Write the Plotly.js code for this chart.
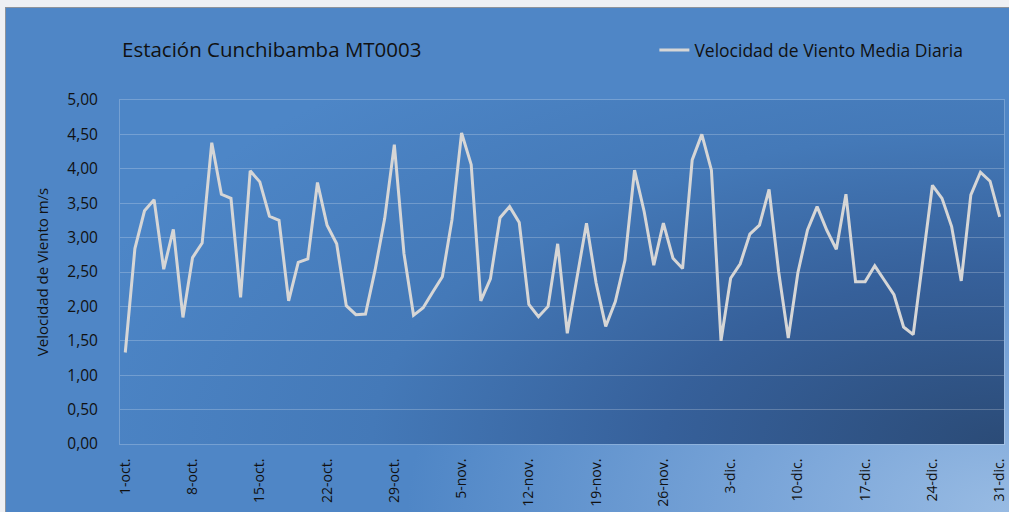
<!DOCTYPE html>
<html>
<head>
<meta charset="utf-8">
<script src="https://cdn.plot.ly/plotly-3.0.1.min.js"></script>
<style>
  html, body { margin:0; padding:0; width:1009px; height:512px; overflow:hidden; background:#eef0f4; }
  #frame { position:absolute; left:5px; top:7px; width:1004px; height:505px;
    border-left:1px solid #8d939c; border-top:1px solid #8d939c; box-sizing:border-box;
    background: radial-gradient(ellipse 60% 70% at 100% 100%, #98bbe3 0%, #7ea8da 35%, #4f86c6 100%); }
  #plotbg { position:absolute; left:120px; top:100px; width:884px; height:344px;
    background: radial-gradient(ellipse 110% 140% at 100% 100%, #2b4b77 0%, #36609a 35%, #4479b8 65%, #4d86c7 100%); }
  #chart { position:absolute; left:0; top:0; width:1009px; height:512px; }
</style>
</head>
<body>
<div id="frame"></div>
<div id="plotbg"></div>
<div id="chart"></div>
<script>
// Months and day counts for the category labels
const months = ['oct.', 'nov.', 'dic.'];
const monthDays = [31, 30, 31];

// Daily mean wind speed (m/s), 1-oct to 31-dic
const windSpeed = [
  1.33, 2.84, 3.39, 3.55, 2.54, 3.12, 1.84, 2.71, 2.92, 4.38,
  3.63, 3.57, 2.13, 3.97, 3.81, 3.31, 3.25, 2.08, 2.64, 2.69,
  3.80, 3.18, 2.91, 2.01, 1.88, 1.89, 2.53, 3.28, 4.35, 2.77,
  1.87, 1.98, 2.21, 2.43, 3.26, 4.52, 4.06, 2.08, 2.40, 3.29,
  3.45, 3.22, 2.03, 1.85, 2.00, 2.91, 1.61, 2.41, 3.21, 2.34,
  1.71, 2.07, 2.67, 3.98, 3.38, 2.60, 3.21, 2.70, 2.55, 4.13,
  4.50, 3.98, 1.50, 2.41, 2.62, 3.05, 3.18, 3.70, 2.50, 1.54,
  2.49, 3.11, 3.45, 3.11, 2.83, 3.63, 2.36, 2.36, 2.59, 2.38,
  2.17, 1.70, 1.59, 2.67, 3.76, 3.57, 3.16, 2.37, 3.62, 3.95,
  3.82, 3.30
];

// Tick labels shown on the x axis
const xTickLabels = ['1-oct.', '8-oct.', '15-oct.', '22-oct.', '29-oct.', '5-nov.', '12-nov.',
  '19-nov.', '26-nov.', '3-dic.', '10-dic.', '17-dic.', '24-dic.', '31-dic.'];
const yTickVals = [0, 0.5, 1, 1.5, 2, 2.5, 3, 3.5, 4, 4.5, 5];
const yTickText = ['0,00', '0,50', '1,00', '1,50', '2,00', '2,50', '3,00', '3,50', '4,00', '4,50', '5,00'];

const categories = [];
months.forEach((m, k) => { for (let d = 1; d <= monthDays[k]; d++) categories.push(d + '-' + m); });

const font = 'Open Sans, Noto Sans, sans-serif';
const gridCol = 'rgba(255,255,255,0.22)';

const trace = {
  x: categories, y: windSpeed, type: 'scatter', mode: 'lines',
  name: 'Velocidad de Viento Media Diaria',
  line: { color: '#d6d6d6', width: 3 }
};

const layout = {
  width: 1009, height: 512,
  margin: { l: 120, r: 5, t: 100, b: 68, pad: 0 },
  paper_bgcolor: 'rgba(0,0,0,0)', plot_bgcolor: 'rgba(0,0,0,0)',
  font: { family: font, color: '#111111' },
  title: { text: 'Estación Cunchibamba MT0003', x: 122 / 1009, xanchor: 'left', y: 1 - 50 / 512, yanchor: 'middle',
    font: { family: font, size: 20.5, color: '#111111' } },
  showlegend: true,
  legend: { x: 0.6045, xanchor: 'left', y: 1.145, yanchor: 'middle', bgcolor: 'rgba(0,0,0,0)',
    font: { family: font, size: 17.5, color: '#111111' }, itemwidth: 30 },
  xaxis: {
    type: 'category', range: [-0.55, 91.45],
    tickmode: 'array', tickvals: xTickLabels, ticktext: xTickLabels,
    tickangle: -90, tickfont: { family: font, size: 14, color: '#111111' },
    ticks: '', ticklabelstandoff: 8,
    showgrid: false, zeroline: false,
    showline: true, linecolor: gridCol, linewidth: 1, mirror: true
  },
  yaxis: {
    range: [0, 5], tickmode: 'array', tickvals: yTickVals, ticktext: yTickText,
    tickfont: { family: font, size: 15.5, color: '#111111' },
    ticks: '', ticklabelstandoff: 18,
    showgrid: true, gridcolor: gridCol, gridwidth: 1, zeroline: false,
    showline: true, linecolor: gridCol, linewidth: 1, mirror: true,
    title: { text: 'Velocidad de Viento m/s', standoff: 15, font: { family: font, size: 15, color: '#111111' } }
  }
};

Plotly.newPlot('chart', [trace], layout, { displayModeBar: false, staticPlot: true });
</script>
</body>
</html>
